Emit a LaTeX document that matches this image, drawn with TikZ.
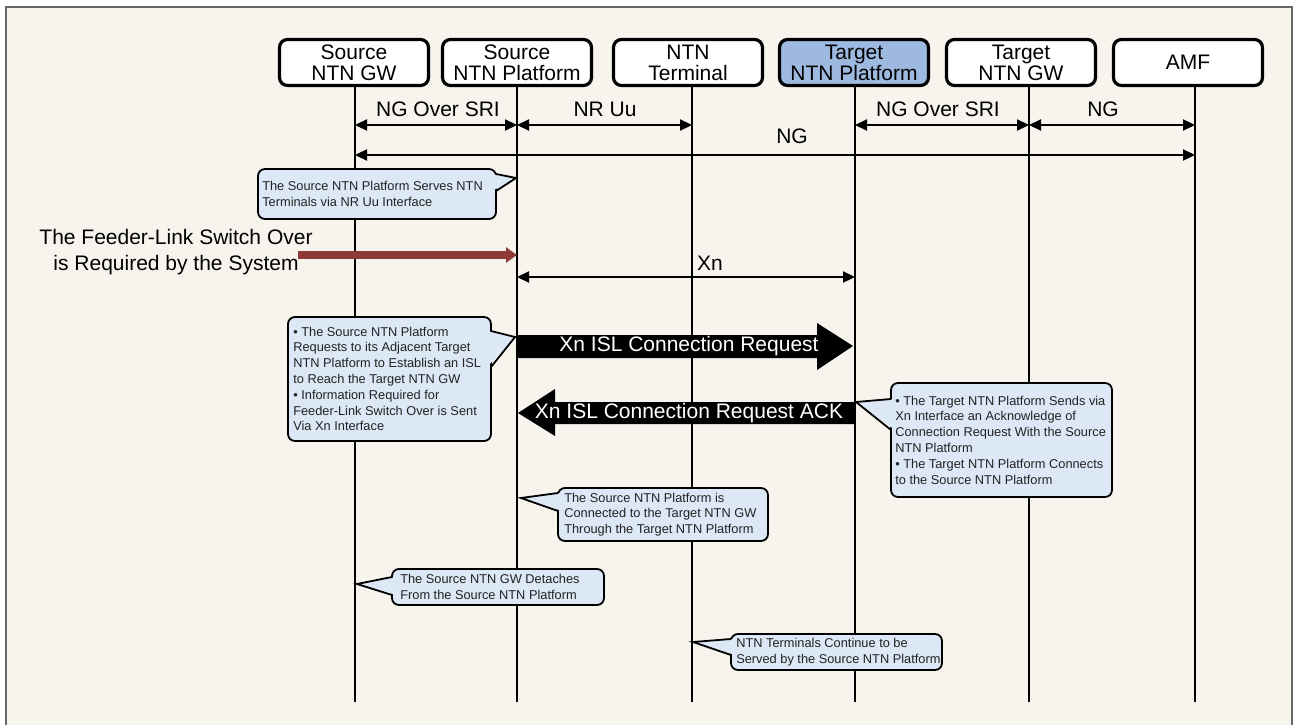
\documentclass[tikz,border=0pt]{standalone}
\usepackage{fontspec}
\setmainfont{Liberation Sans}
\usetikzlibrary{arrows.meta,calc}
\definecolor{bg}{HTML}{F7F4EE}
\definecolor{framec}{HTML}{666666}
\definecolor{cfill}{HTML}{DCE8F6}
\definecolor{tfill}{HTML}{9DB9DF}
\definecolor{feed}{HTML}{8E3B37}
\definecolor{ctxt}{HTML}{222222}
\begin{document}
\begin{tikzpicture}[x=1pt,y=-1pt,
 hdr/.style={draw=black, line width=3.2pt, rounded corners=8pt, fill=white, minimum width=149pt, minimum height=46pt, inner sep=0pt, align=center, font=\fontsize{21}{21}\selectfont},
 life/.style={line width=1.6pt},
 arr/.style={line width=2.2pt, {Triangle[length=12pt,width=11pt]}-{Triangle[length=12pt,width=11pt]}},
 lbl/.style={font=\fontsize{21}{21}\selectfont, inner sep=0pt, anchor=base},
 cbox/.style={draw=black, line width=1.8pt, fill=cfill, rounded corners=7pt, inner sep=0pt},
 ctext/.style={font=\fontsize{12.8}{15.8}\selectfont, text=ctxt, align=left, inner sep=0pt, anchor=west},
 ptr/.style={draw=black, line width=1.8pt, line join=miter},
 big/.style={fill=black},
 bigtxt/.style={text=white, font=\fontsize{21}{21}\selectfont, inner sep=0pt},
]
\useasboundingbox (0,0) rectangle (1296,725);
\fill[white] (0,0) rectangle (1296,725);
\draw[framec, line width=1.5pt, fill=bg] (6,7) rectangle (1292,740);

% lifeline coordinates
\coordinate (L1) at (355,80);
\coordinate (L2) at (517,80);
\coordinate (L3) at (692,80);
\coordinate (L4) at (855,80);
\coordinate (L5) at (1029,80);
\coordinate (L6) at (1195,80);
\coordinate (bot) at (0,702);
\coordinate (r1) at (0,125);
\coordinate (r2) at (0,155);
\coordinate (r3) at (0,255);
\coordinate (r4) at (0,277);

\foreach \l in {L1,L2,L3,L4,L5,L6} \draw[life] (\l) -- (\l |- bot);

% headers
\node[hdr] (h1) at (354,62.5) {Source\\NTN GW};
\node[hdr] (h2) at (517,62.5) {Source\\NTN Platform};
\node[hdr] (h3) at (688,62.5) {NTN\\Terminal};
\node[hdr, fill=tfill] (h4) at (854,62.5) {Target\\NTN Platform};
\node[hdr] (h5) at (1021,62.5) {Target\\NTN GW};
\node[hdr] (h6) at (1188,62.5) {AMF};

% interface arrows
\draw[arr] (L1 |- r1) -- (L2 |- r1);
\draw[arr] (L2 |- r1) -- (L3 |- r1);
\draw[arr] (L4 |- r1) -- (L5 |- r1);
\draw[arr] (L5 |- r1) -- (L6 |- r1);
\node[lbl] (n1) at (438,117) {NG Over SRI};
\node[lbl] (n2) at (605,117) {NR Uu};
\node[lbl] (n3) at (938,117) {NG Over SRI};
\node[lbl] (n4) at (1103,117) {NG};
\draw[arr] (L1 |- r2) -- (L6 |- r2);
\node[lbl] (n5) at (792,143) {NG};

% feeder-link trigger
\node[font=\fontsize{21}{26}\selectfont, align=center, inner sep=0pt] (feedtxt) at (176,252) {The Feeder-Link Switch Over\\is Required by the System};
\coordinate (fs) at (298,255);
\draw[feed, line width=8pt, -{Triangle[length=11pt,width=15pt]}] (fs) -- (L2 |- r3);

% Xn
\draw[arr] (L2 |- r4) -- (L4 |- r4);
\node[lbl] (n6) at (710,270) {Xn};

% big arrows
\fill[big] (517,335) -- (817,335) -- (817,323) -- (853,346) -- (817,370) -- (817,358) -- (517,358) -- cycle;
\node[bigtxt] (x1) at (689,346.5) {Xn ISL Connection Request};
\fill[big] (855,402) -- (555,402) -- (555,389) -- (518,413) -- (555,436) -- (555,424) -- (855,424) -- cycle;
\node[bigtxt] (x2) at (689,413) {Xn ISL Connection Request ACK};

% callout 1
\node[cbox, minimum width=238pt, minimum height=50pt] (c1) at (377,194) {};
\coordinate (p1) at (516,178);
\fill[cfill] (492,174) -- (p1) -- (492,191) -- cycle;
\draw[ptr] (496,174) -- (p1) -- (496,191);
\node[ctext] (t1) at ([xshift=5pt]c1.west) {The Source NTN Platform Serves NTN\\Terminals via NR Uu Interface};

% callout 2
\node[cbox, minimum width=203pt, minimum height=124pt] (c2) at (389.5,379) {};
\coordinate (p2) at (515,337);
\fill[cfill] (487,331) -- (p2) -- (487,367) -- cycle;
\draw[ptr] (491,331) -- (p2) -- (491,367);
\node[ctext] (t2) at ([xshift=6pt]c2.west) {\textbullet\ The Source NTN Platform\\Requests to its Adjacent Target\\NTN Platform to Establish an ISL\\to Reach the Target NTN GW\\\textbullet\ Information Required for\\Feeder-Link Switch Over is Sent\\Via Xn Interface};

% callout 3
\node[cbox, minimum width=221pt, minimum height=114pt] (c3) at (1001.5,440) {};
\coordinate (p3) at (856,402);
\fill[cfill] (895,399) -- (p3) -- (895,430) -- cycle;
\draw[ptr] (891,399) -- (p3) -- (891,430);
\node[ctext] (t3) at ([xshift=5pt]c3.west) {\textbullet\ The Target NTN Platform Sends via\\Xn Interface an Acknowledge of\\Connection Request With the Source\\NTN Platform\\\textbullet\ The Target NTN Platform Connects\\to the Source NTN Platform};

% callout 4
\node[cbox, minimum width=210pt, minimum height=53pt] (c4) at (663,514.5) {};
\coordinate (p4) at (521,498);
\fill[cfill] (562,493) -- (p4) -- (562,511) -- cycle;
\draw[ptr] (558,493) -- (p4) -- (558,511);
\node[ctext] (t4) at ([xshift=7pt]c4.west) {The Source NTN Platform is\\Connected to the Target NTN GW\\Through the Target NTN Platform};

% callout 5
\node[cbox, minimum width=212pt, minimum height=36pt] (c5) at (498,587) {};
\coordinate (p5) at (357,584);
\fill[cfill] (396,577) -- (p5) -- (396,595) -- cycle;
\draw[ptr] (392,577) -- (p5) -- (392,595);
\node[ctext] (t5) at ([xshift=9pt]c5.west) {The Source NTN GW Detaches\\From the Source NTN Platform};

% callout 6
\node[cbox, minimum width=211pt, minimum height=36pt] (c6) at (836.5,652) {};
\coordinate (p6) at (693,642);
\fill[cfill] (735,639) -- (p6) -- (735,655) -- cycle;
\draw[ptr] (731,639) -- (p6) -- (731,655);
\node[ctext] (t6) at ([xshift=6pt]c6.west) {NTN Terminals Continue to be\\Served by the Source NTN Platform};
\end{tikzpicture}
\end{document}
